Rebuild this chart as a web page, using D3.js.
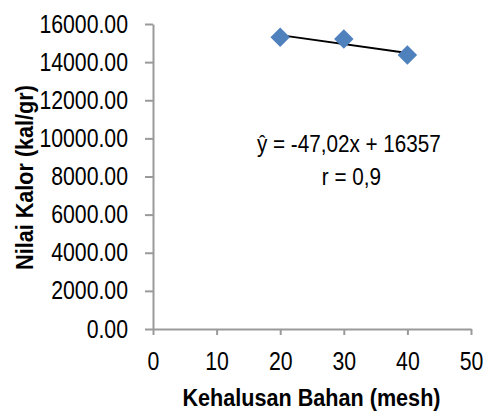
<!DOCTYPE html>
<html lang="en">
<head>
  <meta charset="UTF-8">
  <title>Nilai Kalor vs Kehalusan Bahan</title>
  <script src="https://d3js.org/d3.v7.min.js"></script>
  <style>
    body {
      margin: 0;
      background: #fff;
      font-family: 'Liberation Sans', Arial, sans-serif;
    }
    .axis path, .axis line {
      stroke: #9a9a9a;
      stroke-width: 2;
    }
    .axis text {
      font-family: 'Liberation Sans', Arial, sans-serif;
      font-size: 25px;
      fill: #000;
    }
    .axis-label {
      font-family: 'Liberation Sans', Arial, sans-serif;
      font-size: 24px;
      font-weight: bold;
    }
    .note {
      font-family: 'Liberation Sans', Arial, sans-serif;
      font-size: 23.5px;
    }
  </style>
</head>
<body>
  <svg width="489" height="414"></svg>

  <script>
    // data
    const mesh = [20, 30, 40];
    const kalor = [15300, 15210, 14370];
    const xTicks = [0, 10, 20, 30, 40, 50];
    const yTicks = [0, 2000, 4000, 6000, 8000, 10000, 12000, 14000, 16000];
    const slope = -47.02, intercept = 16357;

    const svg = d3.select("svg"),
      margin = { top: 24, right: 18, bottom: 85, left: 153 },
      width = +svg.attr("width") - margin.left - margin.right,
      height = +svg.attr("height") - margin.top - margin.bottom;

    const g = svg.append("g").attr("transform", `translate(${margin.left},${margin.top})`);

    const x = d3.scaleLinear().domain([0, 50]).range([0, width]);
    const y = d3.scaleLinear().domain([0, 16000]).range([height, 0]);

    // the original font is a narrow one, so squeeze text horizontally
    function squeeze(sel, k, extra) {
      sel.each(function() {
        const t = d3.select(this);
        const tx = +t.attr("x") || 0, ty = +t.attr("y") || 0;
        t.attr("x", null).attr("y", null)
          .attr("transform", `translate(${tx},${ty}) ${extra || ""} scale(${k},1)`);
      });
    }

    // Y axis
    g.append("g")
      .attr("class", "axis")
      .call(d3.axisLeft(y).tickValues(yTicks).tickSize(8).tickSizeOuter(0).tickPadding(17)
        .tickFormat(d3.format(".2f")))
      .selectAll("text")
      .call(squeeze, 0.85);

    // X axis
    g.append("g")
      .attr("class", "axis")
      .attr("transform", `translate(0,${height})`)
      .call(d3.axisBottom(x).tickValues(xTicks).tickSize(6).tickSizeOuter(0).tickPadding(17))
      .selectAll("text")
      .call(squeeze, 0.85);

    // trendline from the equation
    const xs = d3.extent(mesh);
    g.append("line")
      .attr("x1", x(xs[0]))
      .attr("y1", y(slope * xs[0] + intercept))
      .attr("x2", x(xs[1]))
      .attr("y2", y(slope * xs[1] + intercept))
      .attr("stroke", "#000")
      .attr("stroke-width", 2);

    // diamond markers
    g.selectAll(".pt")
      .data(mesh.map((m, i) => ({ m, v: kalor[i] })))
      .enter()
      .append("path")
      .attr("class", "pt")
      .attr("d", d3.symbol().type(d3.symbolSquare).size(190))
      .attr("transform", d => `translate(${x(d.m)},${y(d.v)}) rotate(45)`)
      .attr("fill", "#4f81bd");

    // equation text
    g.append("text")
      .attr("class", "note")
      .attr("x", x(30.8))
      .attr("y", y(9290))
      .attr("text-anchor", "middle")
      .text("ŷ = -47,02x + 16357")
      .call(squeeze, 0.88);

    g.append("text")
      .attr("class", "note")
      .attr("x", x(31.2))
      .attr("y", y(7560))
      .attr("text-anchor", "middle")
      .text("r = 0,9")
      .call(squeeze, 0.88);

    // axis titles
    svg.append("text")
      .attr("class", "axis-label")
      .attr("x", margin.left + width / 2 - 0.5)
      .attr("y", 406)
      .attr("text-anchor", "middle")
      .text("Kehalusan Bahan (mesh)")
      .call(squeeze, 0.9);

    svg.append("text")
      .attr("class", "axis-label")
      .attr("x", 33)
      .attr("y", 177.5)
      .attr("text-anchor", "middle")
      .text("Nilai Kalor (kal/gr)")
      .call(squeeze, 0.9, "rotate(-90)");
  </script>
</body>
</html>
